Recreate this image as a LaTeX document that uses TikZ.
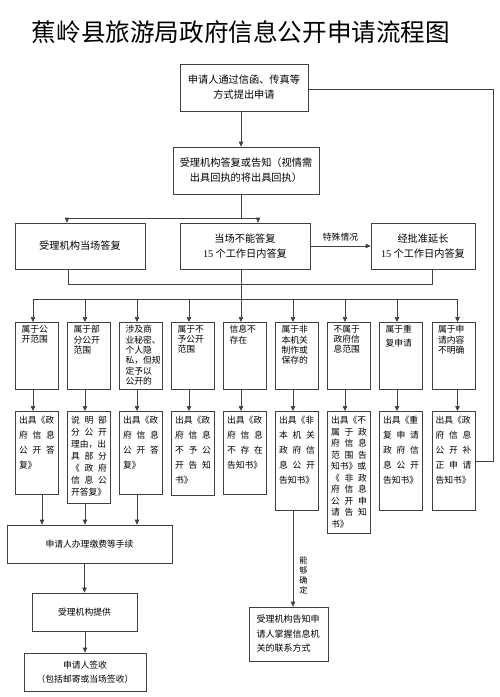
\documentclass[tikz,border=0pt]{standalone}
\usepackage{fontspec}
\setmainfont{Liberation Serif}
\newfontfamily\cjk{Noto Sans CJK SC}
\usetikzlibrary{arrows.meta}
\newlength\pxu \setlength\pxu{0.3mm}
\newcommand{\cellbox}[2]{\parbox[c][#1\pxu][t]{36\pxu}{#2}}
\newcommand{\casebox}[1]{\parbox[c][61\pxu][t]{36\pxu}{\leftskip=2.5\pxu #1}}
\newcommand{\spr}[1]{\makebox[\linewidth][s]{#1}}
\tikzset{bx/.style={draw,align=center,text=black,font=\cjk\fontsize{8.7}{12.8}\selectfont,inner sep=0pt},
 sm/.style={bx,font=\cjk\fontsize{7.5}{12}\selectfont},
 nb/.style={draw,anchor=north,text=black,inner xsep=3.5\pxu,inner ysep=3\pxu,font=\cjk\fontsize{7.5}{8.8}\selectfont},
 nc/.style={nb,inner ysep=5\pxu,font=\cjk\fontsize{7.5}{12.8}\selectfont},
 ar/.style={-{Triangle[length=1.5mm,width=1.35mm]}},
 lb/.style={font=\cjk\fontsize{7.5}{8.8}\selectfont,text=black,inner sep=0pt}}
\begin{document}
\begin{tikzpicture}[x=0.3mm,y=-0.3mm,line width=0.6pt,color=black!75]
\useasboundingbox (0,0) rectangle (500,697);
\node[text=black,font=\cjk\fontsize{21}{24}\selectfont](title) at (241,32){蕉岭县旅游局政府信息公开申请流程图};
\node[bx,minimum width=128\pxu,minimum height=47\pxu](apply) at (244,87.5){申请人通过信函、传真等\\方式提出申请};
\node[bx,minimum width=146\pxu,minimum height=47\pxu](reply) at (246,170.5){受理机构答复或告知（视情需\\出具回执的将出具回执）};
\node[bx,minimum width=130\pxu,minimum height=46\pxu](recA) at (80,246){受理机构当场答复};
\node[bx,minimum width=130\pxu,minimum height=46\pxu](recB) at (245,246){当场不能答复\\{\rmfamily 15} 个工作日内答复};
\node[bx,minimum width=104\pxu,minimum height=46\pxu](recC) at (423,246){经批准延长\\{\rmfamily 15} 个工作日内答复};
% cases
\node[nb](q1) at (37,322){\casebox{属于公\\开范围}};
\node[nb](q2) at (89,322){\casebox{属于部\\分公开\\范围}};
\node[nb](q3) at (141,322){\casebox{涉及商\\业秘密、\\个人隐\\私，但规\\定予以\\公开的}};
\node[nb](q4) at (193,322){\casebox{属于不\\予公开\\范围}};
\node[nb](q5) at (245,322){\casebox{信息不\\存在}};
\node[nb](q6) at (297,322){\casebox{属于非\\本机关\\制作或\\保存的}};
\node[nb](q7) at (349,322){\casebox{不属于\\政府信\\息范围}};
\node[nb](q8) at (401,322){\casebox{属于重\\[4\pxu]复申请}};
\node[nb](q9) at (453.5,322){\casebox{属于申\\请内容\\不明确}};
% replies
\node[nc](r1) at (37,411){\cellbox{73}{出具《政\\\spr{府 信 息}\\\spr{公 开 答}\\复》}};
\node[nc,font=\cjk\fontsize{7.5}{10.2}\selectfont](r2) at (89,411){\cellbox{82}{\spr{说 明 部}\\\spr{分 公 开}\\理由，出\\\spr{具 部 分}\\\spr{《 政 府}\\\spr{信 息 公}\\开答复》}};
\node[nc](r3) at (141,411){\cellbox{73}{出具《政\\\spr{府 信 息}\\\spr{公 开 答}\\复》}};
\node[nc](r4) at (193,411){\cellbox{74}{出具《政\\\spr{府 信 息}\\\spr{不 予 公}\\\spr{开 告 知}\\书》}};
\node[nc](r5) at (245,411){\cellbox{73}{出具《政\\\spr{府 信 息}\\\spr{不 存 在}\\告知书》}};
\node[nc](r6) at (297,411){\cellbox{89}{出具《非\\\spr{本 机 关}\\\spr{政 府 信}\\\spr{息 公 开}\\告知书》}};
\node[nc,font=\cjk\fontsize{7.5}{9.8}\selectfont](r7) at (349,411){\cellbox{112}{出具《不\\\spr{属 于 政}\\\spr{府 信 息}\\\spr{范 围 告}\\知书》或\\\spr{《 非 政}\\\spr{府 信 息}\\\spr{公 开 申}\\\spr{请 告 知}\\书》}};
\node[nc](r8) at (401,411){\cellbox{89}{出具《重\\\spr{复 申 请}\\\spr{政 府 信}\\\spr{息 公 开}\\告知书》}};
\node[nc](r9) at (453.5,411){\cellbox{89}{出具《政\\\spr{府 信 息}\\\spr{公 开 补}\\\spr{正 申 请}\\告知书》}};
% follow-up
\node[sm,minimum width=165\pxu,minimum height=38\pxu](fee) at (89.5,544){申请人办理缴费等手续};
\node[sm,minimum width=105\pxu,minimum height=38\pxu](prov) at (84.5,612){受理机构提供};
\node[sm,minimum width=122\pxu,minimum height=38\pxu](sign) at (85,672){申请人签收\\（包括邮寄或当场签收）};
\node[bx,font=\cjk\fontsize{7.7}{12.4}\selectfont,align=left,text width=64\pxu,minimum width=79\pxu,minimum height=54\pxu](notice) at (288.5,634){受理机构告知申\\请人掌握信息机\\关的联系方式};
\coordinate(sp1) at (241,218);\coordinate(sp2) at (241,299);\coordinate(rc) at (493,89);
\draw[ar](sp1|-apply.south)--(sp1|-reply.north);\draw(sp1|-reply.south)--(sp1);
\draw[ar](sp1)-|([xshift=-13\pxu]recA.north);\draw[ar](sp1)-|([xshift=13\pxu]recB.north);
\draw[ar](recB)--node[lb,above=4\pxu]{特殊情况}(recC);
\draw([xshift=-12\pxu]recA.south)--++(0,15)-|([xshift=9\pxu]recC.south);\draw(sp1|-recB.south)--(sp2);
\draw([xshift=-4\pxu]q1.north|-sp2)--([xshift=4\pxu]q9.north|-sp2);
\draw[ar]([xshift=-4\pxu]q1.north|-sp2)--([xshift=-4\pxu]q1.north);\draw[ar]([xshift=-4\pxu]q2.north|-sp2)--([xshift=-4\pxu]q2.north);
\draw[ar]([xshift=-4\pxu]q3.north|-sp2)--([xshift=-4\pxu]q3.north);\draw[ar]([xshift=-4\pxu]q4.north|-sp2)--([xshift=-4\pxu]q4.north);
\draw[ar]([xshift=-4\pxu]q5.north|-sp2)--([xshift=-4\pxu]q5.north);\draw[ar]([xshift=-4\pxu]q6.north|-sp2)--([xshift=-4\pxu]q6.north);
\draw[ar]([xshift=-4\pxu]q7.north|-sp2)--([xshift=-4\pxu]q7.north);\draw[ar]([xshift=-4\pxu]q8.north|-sp2)--([xshift=-4\pxu]q8.north);
\draw[ar]([xshift=4\pxu]q9.north|-sp2)--([xshift=4\pxu]q9.north);
\draw[ar]([xshift=-4\pxu]q1.south)--([xshift=-4\pxu]r1.north);\draw[ar]([xshift=-4\pxu]q2.south)--([xshift=-4\pxu]r2.north);
\draw[ar]([xshift=-4\pxu]q3.south)--([xshift=-4\pxu]r3.north);\draw[ar]([xshift=-4\pxu]q4.south)--([xshift=-4\pxu]r4.north);
\draw[ar]([xshift=-4\pxu]q5.south)--([xshift=-4\pxu]r5.north);\draw[ar]([xshift=-4\pxu]q6.south)--([xshift=-4\pxu]r6.north);
\draw[ar]([xshift=-4\pxu]q7.south)--([xshift=-4\pxu]r7.north);\draw[ar]([xshift=-4\pxu]q8.south)--([xshift=-4\pxu]r8.north);
\draw[ar]([xshift=4\pxu]q9.south)--([xshift=4\pxu]r9.north);
\draw[ar]([xshift=5\pxu]r1.south)--([xshift=5\pxu]r1.south|-fee.north);\draw[ar]([xshift=-4\pxu]r2.south)--([xshift=-4\pxu]r2.south|-fee.north);
\draw[ar]([xshift=-4\pxu]r3.south)--([xshift=-4\pxu]r3.south|-fee.north);
\draw[ar](prov.north|-fee.south)--(prov.north);\draw[ar](sign.north|-prov.south)--(sign.north);
\draw[ar]([xshift=-4\pxu]r6.south)--node[lb,pos=0.67,anchor=west,xshift=6\pxu,font=\cjk\fontsize{7}{8.5}\selectfont,align=center]{能\\够\\确\\定}([xshift=-4\pxu]r6.south|-notice.north);
\draw(apply.east|-rc)--(rc)|-(r9.east);
\end{tikzpicture}
\end{document}
